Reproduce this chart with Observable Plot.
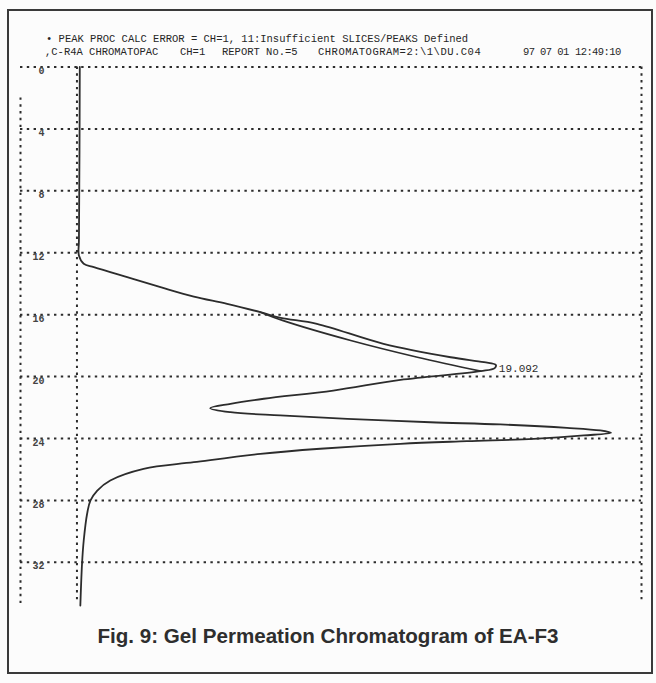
<!DOCTYPE html>
<html>
<head>
<meta charset="utf-8">
<script src="https://cdn.jsdelivr.net/npm/d3@7"></script>
<script src="https://cdn.jsdelivr.net/npm/@observablehq/plot@0.6"></script>
<style>
  html, body { margin: 0; padding: 0; background: #fcfcfc; }
  #page { position: relative; width: 656px; height: 683px; overflow: hidden; background: #fcfcfc; }
  #frame { position: absolute; left: 7px; top: 9px; width: 642px; height: 661px; border: 2px solid #3a3a3a; box-sizing: content-box; pointer-events: none; }
  #chart { position: absolute; left: 0; top: 0; }
  .hdr { position: absolute; font-family: "Liberation Mono", "DejaVu Sans Mono", monospace; font-size: 10.5px; color: #262626; white-space: pre; line-height: 1; }
  #caption { position: absolute; left: 0; width: 656px; top: 624px; text-align: center; font-family: "Liberation Sans", Arial, sans-serif; font-weight: bold; font-size: 20.6px; color: #2e2e2e; }
</style>
</head>
<body>
<div id="page">
  <div id="chart"></div>
  <div id="frame"></div>
  <div id="hdr"></div>
  <div id="caption"></div>
</div>
<script>
// ---- Data ----
// Main detector trace: retention time (min) and detector signal (% of full scale)
const traceTime   = [0, 5.4, 11.2, 12.18, 12.71, 12.93, 13.58, 14.22, 14.83, 15.30, 15.84, 16.20, 16.59, 17.88, 18.75, 19.07, 19.25, 19.45, 19.65, 20.21, 20.90, 21.43, 21.76, 22.04, 22.30, 22.51, 22.73, 22.95, 23.09, 23.31, 23.48, 23.63, 23.80, 24.02, 24.17, 24.34, 24.66, 24.99, 25.53, 25.96, 26.71, 27.36, 28.00, 28.86, 30.59, 32.09, 34.79];
const traceSignal = [0.5, 0.45, 0.35, 0.35, 1.2, 3.0, 8.9, 14.8, 20.7, 26.6, 32.5, 36.1, 42.5, 54.3, 66.2, 72.1, 74.2, 74.0, 71.5, 57.3, 45.4, 33.1, 27.2, 23.6, 27.2, 36.0, 47.9, 62.6, 75.0, 86.8, 92.7, 94.6, 89.8, 80.9, 69.1, 57.3, 43.1, 32.5, 20.7, 11.8, 5.9, 3.6, 2.4, 1.8, 1.2, 0.9, 0.6];
// Second (inner) branch of the first peak
const innerTime   = [15.84, 16.37, 17.67, 18.75, 19.65];
const innerSignal = [32.5, 36.4, 48.5, 60.3, 71.5];

// Time grid and its tick labels
const gridTimes  = [0, 4, 8, 12, 16, 20, 24, 28, 32];
const tickLabels = ["0", "4", "8", "12", "16", "20", "24", "28", "32"];

// Vertical dotted guides: signal position, start time, end time
const guideSignal = [-10, 0, 100];
const guideStart  = [2, 0, 0];
const guideEnd    = [34.7, 34.7, 34.7];

// Peak annotation
const peakTimes  = [19.25];
const peakSignal = [74.2];
const peakLabels = ["19.092"];

// Header lines and caption
const header1 = "\u2022 PEAK PROC CALC ERROR = CH=1, 11:Insufficient SLICES/PEAKS Defined";
const header2Parts = [",C-R4A CHROMATOPAC", "CH=1", "REPORT No.=5", "CHROMATOGRAM=2:\\1\\DU.C04", "97 07 01", "12:49:10"];
const captionText = "Fig. 9: Gel Permeation Chromatogram of EA-F3";

// ---- Build tables ----
const trace = traceTime.map((t, i) => ({t, v: traceSignal[i]}));
const inner = innerTime.map((t, i) => ({t, v: innerSignal[i]}));
const grid = gridTimes.map((t, i) => ({t, label: tickLabels[i]}));
const guides = guideSignal.map((v, i) => ({v, t1: guideStart[i], t2: guideEnd[i]}));
const peaks = peakTimes.map((t, i) => ({t, v: peakSignal[i], label: peakLabels[i]}));

const ink = "#2c2c2c";
const dotted = {stroke: ink, strokeWidth: 2, strokeDasharray: "2.4 4.4"};

const chart = Plot.plot({
  width: 656,
  height: 683,
  marginTop: 66.5,
  marginBottom: 74.7,
  marginLeft: 20,
  marginRight: 15,
  style: {background: "transparent", overflow: "visible"},
  x: {domain: [-10, 100], axis: null},
  y: {domain: [0, 35], reverse: true, axis: null},
  marks: [
    Plot.ruleY(grid, {y: "t", x1: -10, x2: 100, ...dotted}),
    Plot.ruleX(guides, {x: "v", y1: "t1", y2: "t2", ...dotted}),
    Plot.text(grid, {x: -10, y: "t", text: "label", textAnchor: "end", lineAnchor: "top", dx: 24, dy: 0,
      fontFamily: "Liberation Mono, DejaVu Sans Mono, monospace", fontSize: 10, fontWeight: "bold", fill: "#444"}),
    Plot.line(inner, {x: "v", y: "t", curve: "catmull-rom", stroke: ink, strokeWidth: 1.7}),
    Plot.line(trace, {x: "v", y: "t", curve: "catmull-rom", stroke: ink, strokeWidth: 1.8}),
    Plot.text(peaks, {x: "v", y: "t", text: "label", textAnchor: "start", dx: 3, dy: 3,
      fontFamily: "Liberation Mono, DejaVu Sans Mono, monospace", fontSize: 11, fill: ink})
  ]
});
document.getElementById("chart").appendChild(chart);

// Header text
const hdr = document.getElementById("hdr");
function addHdr(text, x, y, ls) {
  const d = document.createElement("div");
  d.className = "hdr";
  d.style.left = x + "px";
  d.style.top = y + "px";
  if (ls) d.style.letterSpacing = ls + "px";
  d.textContent = text;
  hdr.appendChild(d);
}
addHdr(header1, 46, 34, 0);
const x2 = [45, 180, 222, 318, 523, 575];
const ls2 = [0, 0, 0, 0.5, -0.6, -0.6];
header2Parts.forEach((p, i) => addHdr(p, x2[i], 47, ls2[i]));

document.getElementById("caption").textContent = captionText;
</script>
</body>
</html>
